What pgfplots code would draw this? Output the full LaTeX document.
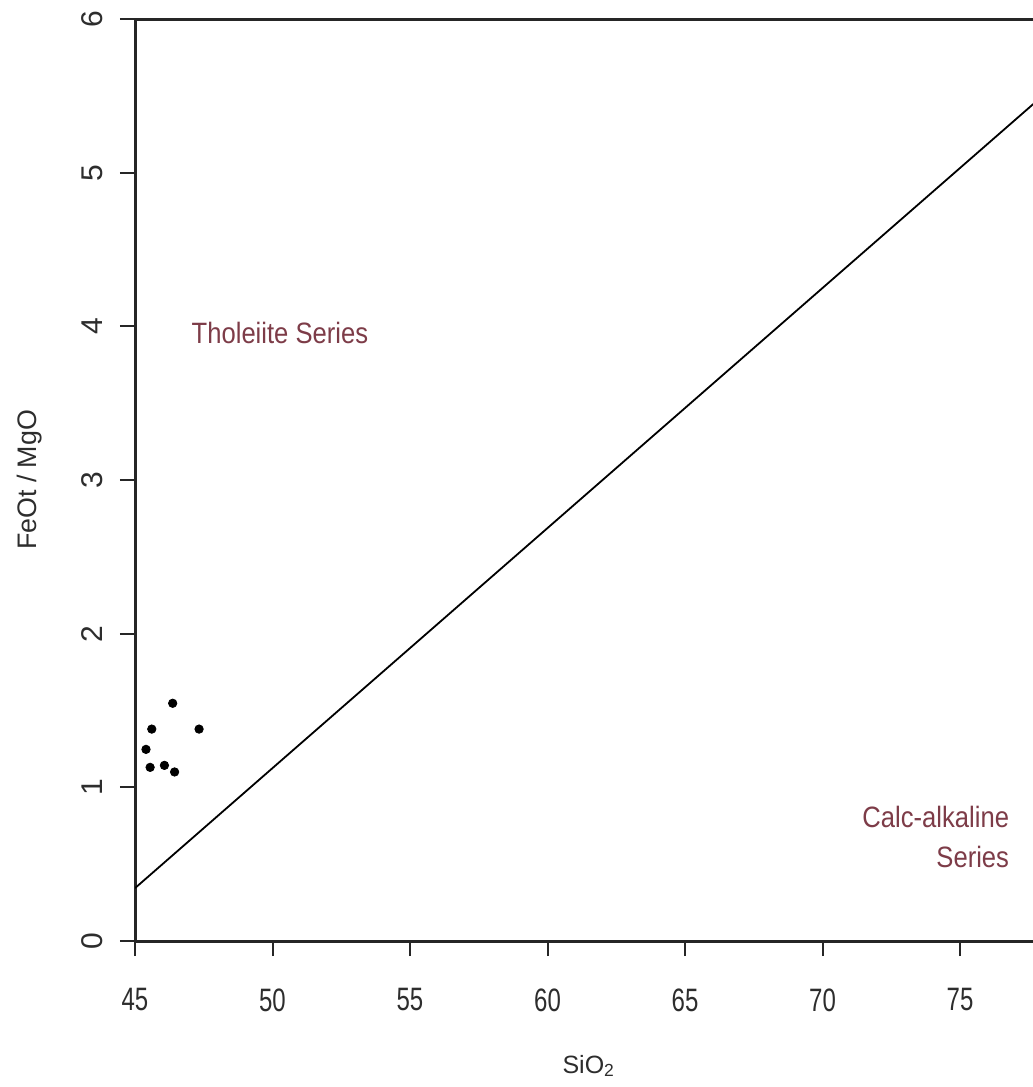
\documentclass[border=0pt]{standalone}
\usepackage{pgfplots}
\pgfplotsset{compat=1.18}
\usepackage{fontspec}
\setmainfont{Liberation Sans}
\definecolor{serieslbl}{RGB}{125,60,72}
\definecolor{ticklbl}{RGB}{45,45,45}
\begin{document}
\begin{tikzpicture}
\useasboundingbox (0,0) rectangle (516.5pt,543.5pt);
\clip (0,0) rectangle (516.5pt,543.5pt);
\begin{axis}[
  at={(67.5pt,73pt)}, anchor=south west,
  scale only axis, width=453.75pt, height=461pt,
  xmin=45, xmax=78, ymin=0, ymax=6,
  xtick={45,50,55,60,65,70,75}, ytick={0,1,2,3,4,5,6},
  tick pos=left, tick align=outside, major tick length=7.5pt,
  separate axis lines,
  axis line style={line width=1.5pt, black!85},
  tick style={line width=1pt, black!85},
  /pgf/number format/assume math mode=true,
  tick label style={font=\fontsize{12}{14}\selectfont, text=ticklbl},
  xticklabel style={anchor=center, yshift=-22pt, yscale=1.35},
  yticklabel style={anchor=center, xshift=-14pt, rotate=90, font=\fontsize{15}{17}\selectfont},
  xlabel={SiO\textsubscript{2}},
  ylabel={FeOt / MgO},
  label style={font=\fontsize{12.5}{14}\selectfont, text=ticklbl},
  xlabel style={at={(axis description cs:0.5,0)}, anchor=base, yshift=-66pt},
  ylabel style={at={(axis description cs:0,0.5)}, anchor=center, yshift=52.5pt, font=\fontsize{13.4}{15}\selectfont},
  clip=true,
]
\addplot[black, line width=0.9pt] coordinates {(45,0.344) (78,5.499)};
\addplot[only marks, mark=*, mark size=2.1pt, black] coordinates {
  (46.37,1.547) (45.61,1.379) (47.33,1.379) (45.40,1.247)
  (45.55,1.130) (46.07,1.143) (46.44,1.100)
};
\node[text=serieslbl, font=\fontsize{12.8}{14}\selectfont, yscale=1.15] at (axis cs:50.27,3.96) {Tholeiite Series};
\node[text=serieslbl, font=\fontsize{12.8}{17.5}\selectfont, yscale=1.15, align=right, anchor=east] at (axis cs:77.04,0.675) {Calc-alkaline\\Series};
\end{axis}
\end{tikzpicture}
\end{document}
